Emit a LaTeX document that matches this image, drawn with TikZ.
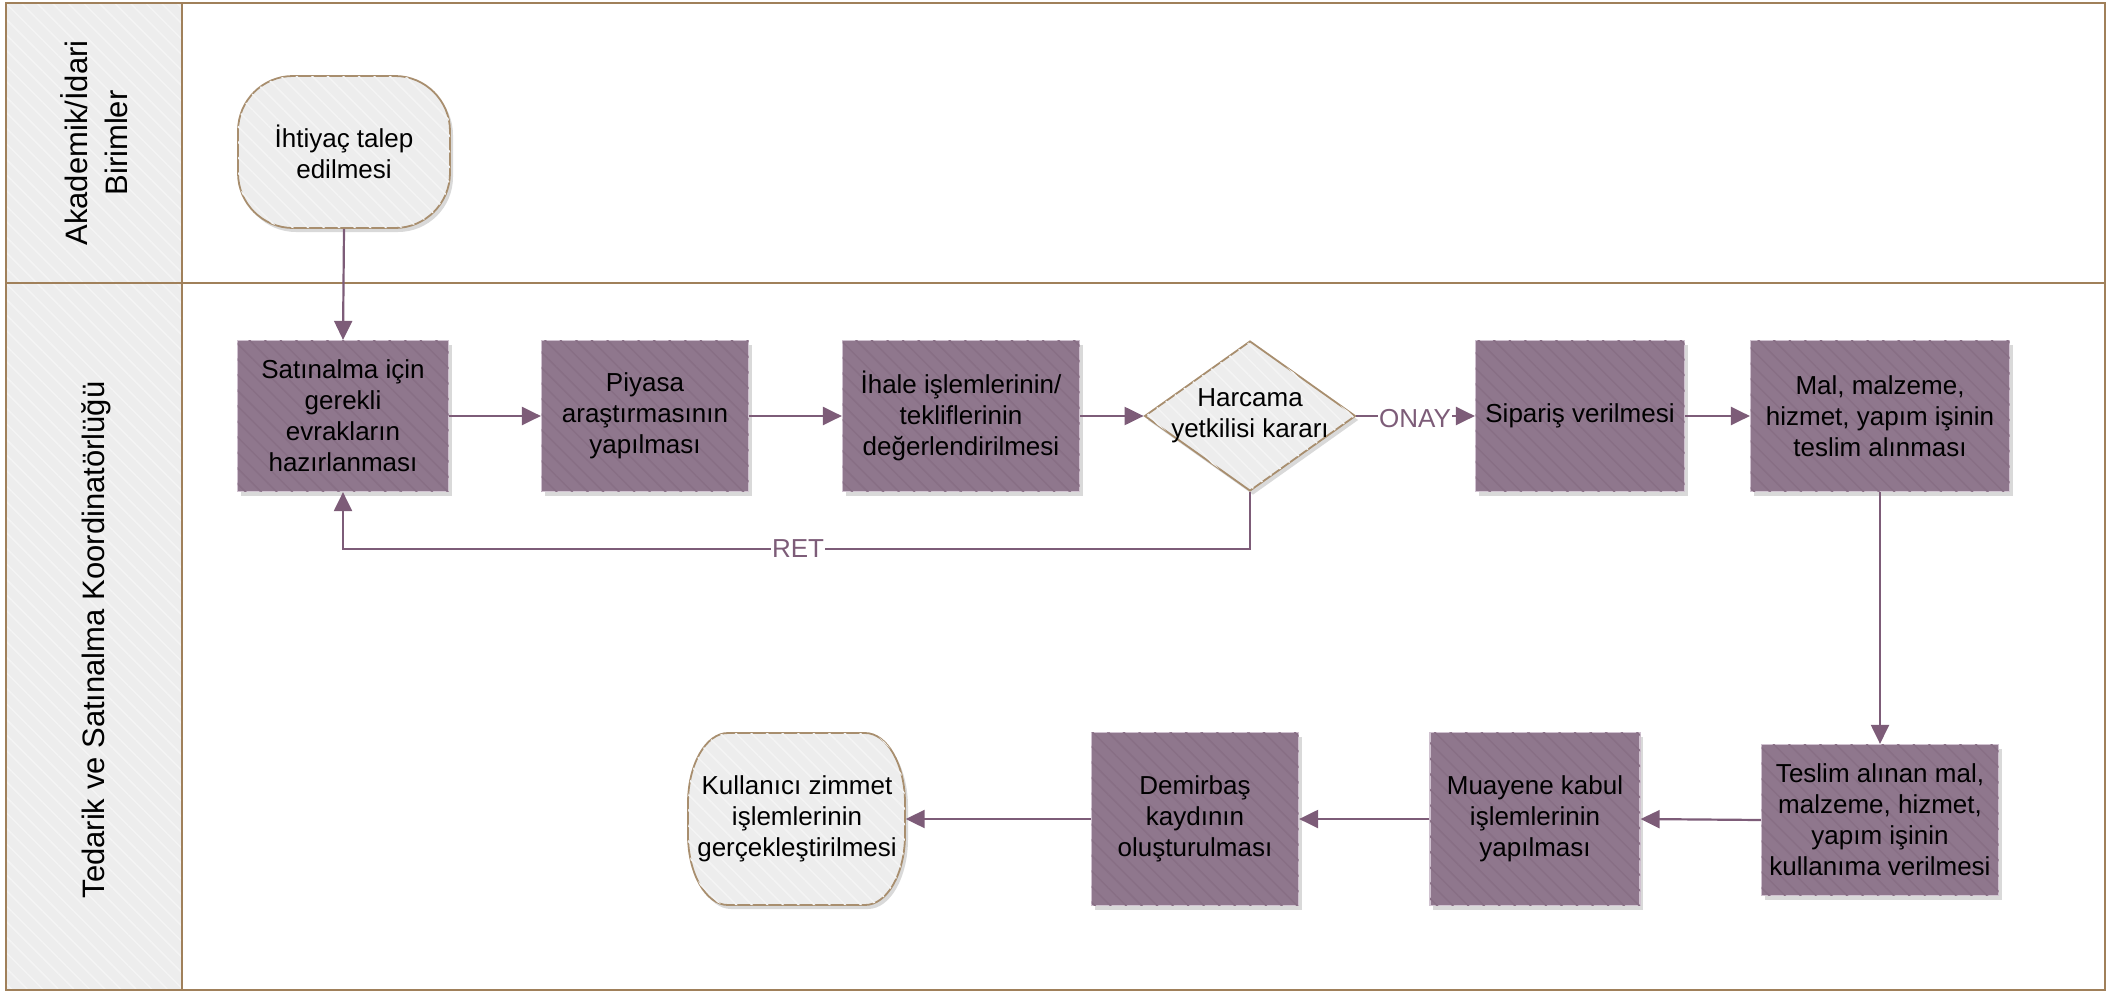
\documentclass[tikz,border=0pt]{standalone}
\usepackage{fontspec}
\setmainfont{Liberation Sans}
\usetikzlibrary{arrows.meta,shapes.geometric,patterns.meta,shadows,calc}
\definecolor{procfill}{RGB}{143,119,141}
\definecolor{procstripe}{RGB}{136,111,133}
\definecolor{procborder}{RGB}{208,194,208}
\definecolor{termfill}{RGB}{237,237,237}
\definecolor{termstripe}{RGB}{244,244,244}
\definecolor{termborder}{RGB}{168,142,110}
\definecolor{lanebrown}{RGB}{160,128,90}
\definecolor{arrowc}{RGB}{125,92,120}
\newcommand\fsmain{\fontsize{26}{31}\selectfont}
\newcommand\fshead{\fontsize{31}{40}\selectfont}
\tikzset{
  x=1pt, y=1pt,
  shad/.style={drop shadow={shadow xshift=3pt, shadow yshift=-4pt, opacity=0.15, fill=black}},
  proc/.style={rectangle, fill=procfill, draw=procborder, line width=1.2pt, align=center,
    font=\fsmain, inner sep=0pt, shad,
    postaction={pattern={Lines[angle=-45,distance=11pt,line width=1.5pt]}, pattern color=procstripe}},
  termsh/.style={fill=termfill, draw=termborder, line width=1.8pt, shad,
    postaction={pattern={Lines[angle=-45,distance=11pt,line width=1.5pt]}, pattern color=termstripe}},
  ttext/.style={align=center, font=\fsmain, inner sep=0pt},
  arr/.style={draw=arrowc, line width=2.2pt, -{Triangle[length=19pt,width=18pt]}},
  lbl/.style={font=\fsmain, text=arrowc, fill=white, inner sep=1pt},
  lane/.style={draw=lanebrown, line width=2.5pt},
  headfill/.style={fill=termfill,
    postaction={pattern={Lines[angle=-45,distance=11pt,line width=1.5pt]}, pattern color=termstripe}},
  lanetext/.style={rotate=90, align=center, font=\fshead}
}
\begin{document}
\begin{tikzpicture}
\useasboundingbox (0,0) rectangle (2125,-993);
% lanes
\path[headfill] (6,-3) rectangle (182,-283);
\path[headfill] (6,-283) rectangle (182,-990);
\draw[lane] (6,-3) rectangle (2105,-990);
\draw[lane] (182,-3) -- (182,-990);
\draw[lane] (6,-283) -- (2105,-283);
\node[lanetext] (l1) at (94,-143) {Akademik/İdari\\Birimler};
\node[lanetext] (l2) at (96,-640) {Tedarik ve Satınalma Koordinatörlüğü};

% start terminal
\node[termsh, rounded corners=55pt, minimum width=212pt, minimum height=152pt, ttext] (start) at (344,-152) {İhtiyaç talep\\edilmesi};

% top row
\node[proc, minimum width=211pt, minimum height=151pt] (b1) at (343,-416) {Satınalma için\\gerekli\\evrakların\\hazırlanması};
\node[proc, minimum width=207pt, minimum height=151pt] (b2) at (645,-416) {Piyasa\\araştırmasının\\yapılması};
\node[proc, minimum width=237pt, minimum height=151pt] (b3) at (961,-416) {İhale işlemlerinin/\\tekliflerinin\\değerlendirilmesi};
\node[diamond, termsh, minimum width=211pt, minimum height=150pt, inner sep=0pt] (d) at (1250,-416) {};
\node[ttext] (dtext) at (d.center) {Harcama\\yetkilisi kararı};
\node[proc, minimum width=209pt, minimum height=151pt] (b4) at (1580,-416) {Sipariş verilmesi};
\node[proc, minimum width=259pt, minimum height=151pt] (b5) at (1880,-416) {Mal, malzeme,\\hizmet, yapım işinin\\teslim alınması};

% bottom row
\node[proc, minimum width=237pt, minimum height=151pt] (b6) at (1880,-820) {Teslim alınan mal,\\malzeme, hizmet,\\yapım işinin\\kullanıma verilmesi};
\node[proc, minimum width=210pt, minimum height=173pt] (b7) at (1535,-819) {Muayene kabul\\işlemlerinin\\yapılması};
\node[proc, minimum width=207pt, minimum height=173pt] (b8) at (1195,-819) {Demirbaş\\kaydının\\oluşturulması};

% end terminal
\path[termsh] (728,-733) -- (865,-733) arc[start angle=90,end angle=0,x radius=40,y radius=70]
  -- (905,-835) arc[start angle=0,end angle=-90,x radius=40,y radius=70]
  -- (728,-905) arc[start angle=270,end angle=180,x radius=40,y radius=70]
  -- (688,-803) arc[start angle=180,end angle=90,x radius=40,y radius=70] -- cycle;
\node[ttext, minimum width=217pt, minimum height=172pt] (end) at (797,-819) {Kullanıcı zimmet\\işlemlerinin\\gerçekleştirilmesi};

% connectors
\draw[arr] (start.south) -- (b1.north);
\draw[arr] (b1.east) -- (b2.west);
\draw[arr] (b2.east) -- (b3.west);
\draw[arr] (b3.east) -- (d.west);
\draw[arr] (d.east) -- (b4.west);
\node[lbl] (onay) at (1415,-419) {ONAY};
\draw[arr] (b4.east) -- (b5.west);
\draw[arr] (b5.south) -- (b6.north);
\draw[arr] (b6.west) -- (b7.east);
\draw[arr] (b7.west) -- (b8.east);
\draw[arr] (b8.west) -- (end.east);
\coordinate (retc) at (343,-549);
\draw[arr] (d.south) |- (retc) -- (b1.south);
\node[lbl] (ret) at (798,-549) {RET};
\end{tikzpicture}
\end{document}
